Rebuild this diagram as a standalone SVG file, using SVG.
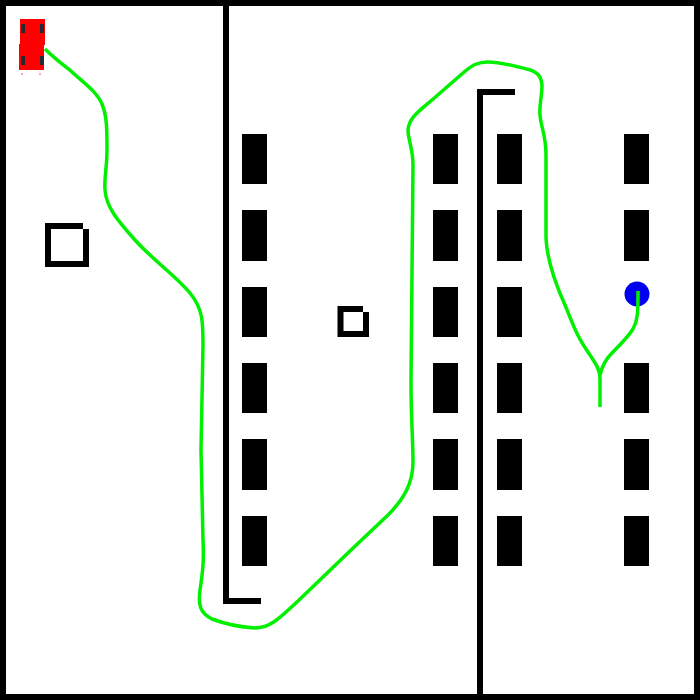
<svg xmlns="http://www.w3.org/2000/svg" width="700" height="700" viewBox="0 0 700 700">
<style>
.k{fill:#000}
.w{fill:#222b33}
.g{fill:none;stroke:#00f000;stroke-width:3.500;stroke-linejoin:round}
</style>
<rect width="700" height="700" fill="#fff"/>
<path class="k" fill-rule="evenodd" d="M0 0H700V700H0ZM6 6V694H694V6Z"/>
<g id="walls">
<path class="k" d="M223 6H229V598H261V604H223Z"/>
<path class="k" d="M477 89H515V95H483V694H477Z"/>
</g>
<g id="squares">
<path class="k" fill-rule="evenodd" d="M45 223H83V229H89V267H45ZM51 229V261H83V229Z"/>
<path class="k" fill-rule="evenodd" d="M337.500 306H363V312H369V337H337.500ZM343.500 312V331H363V312Z"/>
</g>
<g id="blocks" class="k">
<rect x="242" y="134" width="25" height="50"/><rect x="242" y="210" width="25" height="51"/><rect x="242" y="287" width="25" height="50"/><rect x="242" y="363" width="25" height="50"/><rect x="242" y="439" width="25" height="51"/><rect x="242" y="516" width="25" height="50"/>
<rect x="433" y="134" width="25" height="50"/><rect x="433" y="210" width="25" height="51"/><rect x="433" y="287" width="25" height="50"/><rect x="433" y="363" width="25" height="50"/><rect x="433" y="439" width="25" height="51"/><rect x="433" y="516" width="25" height="50"/>
<rect x="497" y="134" width="25" height="50"/><rect x="497" y="210" width="25" height="51"/><rect x="497" y="287" width="25" height="50"/><rect x="497" y="363" width="25" height="50"/><rect x="497" y="439" width="25" height="51"/><rect x="497" y="516" width="25" height="50"/>
<rect x="624" y="134" width="25" height="50"/><rect x="624" y="210" width="25" height="51"/><rect x="624" y="363" width="25" height="50"/><rect x="624" y="439" width="25" height="51"/><rect x="624" y="516" width="25" height="50"/>
</g>
<circle id="goal" cx="637" cy="294" r="12.500" fill="#0000f0"/>
<g id="connectors">
<path class="g" d="M45 49C55 59 65 66 72 72C84 83 97 92 102 104C107 116 107 130 107 150C107 170 104 176 105 190C106 207 118 221 135 240C155 262 175 275 190 293C203 309 203 322 203 345L201 450L203 540C204 560 203 570 200 590C198 605 200 613 212 619C225 624 240 627 255 628C270 628 280 618 297 602L350 551L388 515C403 500 413 484 413 462C413 440 411 420 411 380L413 165C413 148 408 140 408 130C409 118 418 112 432 100L463 73C472 65 478 62 488 62C500 62 515 66 527 69C538 72 541 76 542 85C542 97 539 105 540 115C541 128 546 135 546 155V238C547 262 556 285 565 305C575 330 578 338 590 355C596 364 600 370 600 378V407"/>
<path class="g" d="M600 375C602 366 606 359 612 353C620 345 628 337 633 329C638 320 638 312 638 291"/>
</g>
<g id="car">
<rect x="20" y="19" width="25" height="26" fill="#ff0000"/>
<rect x="19" y="44" width="25" height="26" fill="#ff0000"/>
<rect class="w" x="21" y="24" width="4" height="9"/>
<rect class="w" x="40" y="24" width="4" height="9"/>
<rect class="w" x="21" y="56" width="4" height="9"/>
<rect class="w" x="40" y="56" width="4" height="9"/>
<rect x="21" y="73" width="2" height="2" fill="#ffaaaa"/>
<rect x="39" y="73" width="2" height="2" fill="#ffaaaa"/>
</g>
</svg>
